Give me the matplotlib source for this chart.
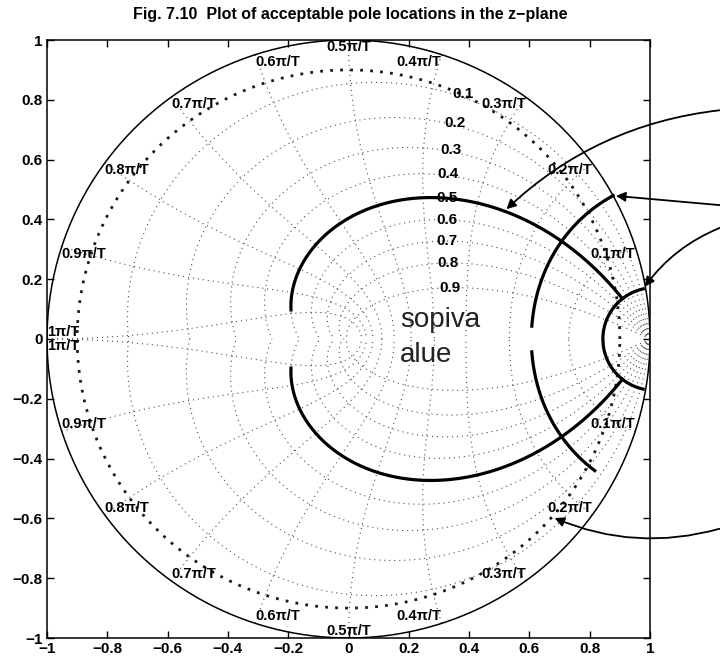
#!/usr/bin/env python3
"""
Fig. 7.10: acceptable pole locations in the z-plane (zgrid style).
"""

import numpy as np
import matplotlib.pyplot as plt
from matplotlib import font_manager

names = {f.name for f in font_manager.fontManager.ttflist}
FONT = 'Liberation Sans' if 'Liberation Sans' in names else 'DejaVu Sans'
plt.rcParams['font.family'] = [FONT, 'DejaVu Sans']

# zgrid values
zeta_grid = [0.1, 0.2, 0.3, 0.4, 0.5, 0.6, 0.7, 0.8, 0.9]
wn_grid = [0.1, 0.2, 0.3, 0.4, 0.5, 0.6, 0.7, 0.8, 0.9, 1.0]   # times pi/T
zeta_label_wnT = 0.375 * np.pi

# design constraints
zeta_spec = 0.5          # damping ratio bound
zeta_theta_end = 0.85 * np.pi
wnT_rise = 0.5           # rise-time arc
rise_zeta_upper = (0.0, 0.99)
rise_zeta_lower = (0.15, 0.99)
wnT_small = 0.17         # small arc near z = 1
small_zeta = (0.05, 1.0)
r_settle = 0.9           # settling-time circle

ticks = [-1, -0.8, -0.6, -0.4, -0.2, 0, 0.2, 0.4, 0.6, 0.8, 1]
tick_labels = ['\u22121', '\u22120.8', '\u22120.6', '\u22120.4', '\u22120.2', '0',
               '0.2', '0.4', '0.6', '0.8', '1']


def zeta_curve(zeta, th):
    return np.exp(th * (-zeta / np.sqrt(1 - zeta**2) + 1j))


def wn_curve(wnT, zeta):
    return np.exp(-zeta * wnT + 1j * wnT * np.sqrt(1 - zeta**2))


fig = plt.figure(figsize=(7.2, 6.56), dpi=100)
ax = fig.add_axes([47 / 720, 18 / 656, 603 / 720, 598 / 656])

dot = dict(color='0.3', lw=0.8, ls=(0, (1, 3.5)))

# damping ratio lines
th = np.linspace(0, np.pi, 300)
for zt in zeta_grid:
    z = zeta_curve(zt, th)
    ax.plot(z.real, z.imag, **dot)
    ax.plot(z.real, -z.imag, **dot)
    p = zeta_curve(zt, zeta_label_wnT * np.sqrt(1 - zt**2))
    ax.text(p.real, p.imag, f'{zt:g}', ha='left', va='center',
            fontsize=11, fontweight='bold')

# natural frequency lines
zs = np.linspace(0, 1, 200)
for w in wn_grid:
    z = wn_curve(w * np.pi, zs)
    ax.plot(z.real, z.imag, **dot)
    ax.plot(z.real, -z.imag, **dot)
    p = np.exp(1j * w * np.pi)
    ha = 'center' if abs(p.real) < 0.01 else ('right' if p.real > 0 else 'left')
    lab = f'{w:g}\u03c0/T'
    ax.text(p.real, p.imag, lab, ha=ha, va='bottom' if w == 1 else 'top',
            fontsize=10.5, fontweight='bold')
    ax.text(p.real, -p.imag, lab, ha=ha, va='top' if w == 1 else 'bottom',
            fontsize=10.5, fontweight='bold')

# unit circle
t = np.linspace(0, 2 * np.pi, 400)
ax.plot(np.cos(t), np.sin(t), color='black', lw=1.1)

# settling-time circle
ax.plot(r_settle * np.cos(t), r_settle * np.sin(t), color='0.1', lw=2,
        ls=(0, (1, 2.6)))

# damping ratio constraint (thick)
th0 = wnT_small * np.sqrt(1 - zeta_spec**2)
th_s = np.linspace(th0, zeta_theta_end, 200)
z = zeta_curve(zeta_spec, th_s)
ax.plot(z.real, z.imag, color='black', lw=2.3)
ax.plot(z.real, -z.imag, color='black', lw=2.3)

# rise-time arc (thick)
z = wn_curve(wnT_rise, np.linspace(*rise_zeta_upper, 200))
ax.plot(z.real, z.imag, color='black', lw=2.3)
z = wn_curve(wnT_rise, np.linspace(*rise_zeta_lower, 200))
ax.plot(z.real, -z.imag, color='black', lw=2.3)

# small arc near z = 1 (thick)
z = wn_curve(wnT_small, np.linspace(*small_zeta, 200))
zz = np.concatenate([z, np.conj(z[::-1])])
ax.plot(zz.real, zz.imag, color='black', lw=2.3)

# region text
ax.text(0.17, 0.04, 'sopiva', fontsize=20, color='#222222', va='baseline')
ax.text(0.17, -0.077, 'alue', fontsize=20, color='#222222', va='baseline')

# arrows from the right margin
arr = dict(arrowstyle='-|>', color='black', lw=1.3, mutation_scale=14)
p1 = zeta_curve(zeta_spec, 0.22 * np.pi)
ax.annotate('', xy=(p1.real, p1.imag), xytext=(1.24, 0.766),
            arrowprops=dict(connectionstyle='arc3,rad=0.17', **arr),
            annotation_clip=False)
p2 = wn_curve(wnT_rise, rise_zeta_upper[0])
ax.annotate('', xy=(p2.real, p2.imag), xytext=(1.24, 0.447),
            arrowprops=dict(connectionstyle='arc3,rad=0.0', **arr),
            annotation_clip=False)
p3 = wn_curve(wnT_small, small_zeta[0])
ax.annotate('', xy=(p3.real, p3.imag), xytext=(1.24, 0.375),
            arrowprops=dict(connectionstyle='arc3,rad=0.15', **arr),
            annotation_clip=False)
a4 = -0.23 * np.pi
ax.annotate('', xy=(r_settle * np.cos(a4), r_settle * np.sin(a4)),
            xytext=(1.24, -0.632),
            arrowprops=dict(connectionstyle='arc3,rad=-0.18', **arr),
            annotation_clip=False)

ax.set_xlim(-1, 1)
ax.set_ylim(-1, 1)
ax.set_xticks(ticks)
ax.set_yticks(ticks)
ax.set_xticklabels(tick_labels)
ax.set_yticklabels(tick_labels)
ax.tick_params(direction='in', top=True, right=True, length=5, width=1,
               labelsize=11, pad=3)
for lab in ax.get_xticklabels() + ax.get_yticklabels():
    lab.set_fontweight('bold')
for s in ax.spines.values():
    s.set_linewidth(1.1)

fig.text(350 / 720, 1 - 15 / 656,
         'Fig. 7.10  Plot of acceptable pole locations in the z\u2212plane',
         ha='center', va='center', fontsize=11.5, fontweight='bold')

fig.savefig('out.png', dpi=100)
